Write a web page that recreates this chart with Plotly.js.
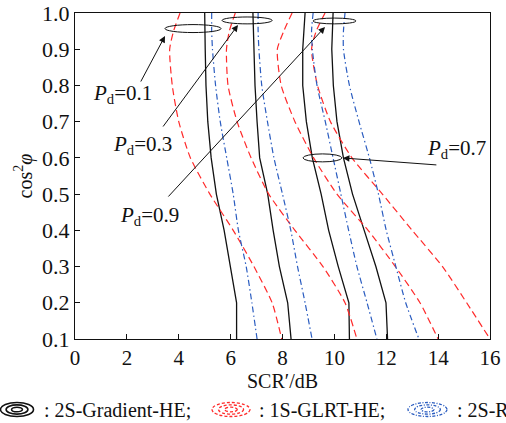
<!DOCTYPE html>
<html>
<head>
<meta charset="utf-8">
<script src="https://cdn.plot.ly/plotly-3.0.1.min.js"></script>
<style>html,body{margin:0;padding:0;background:#fff;}#chart{width:506px;height:423px;}</style>
</head>
<body>
<div id="chart"></div>
<script>
// cos^2(phi) sample levels (y axis)
const cos2phi = [1.0, 0.95, 0.9, 0.8, 0.7, 0.6, 0.5, 0.4, 0.3, 0.2, 0.1];

// SCR'/dB values, 2S-Gradient-HE (black solid)
const gradPd01 = [5.0, 5.0, 5.02, 5.05, 5.12, 5.25, 5.45, 5.75, 6.0, 6.23, 6.23];
const gradPd03 = [6.86, 6.88, 6.9, 6.94, 7.02, 7.12, 7.43, 7.64, 7.88, 8.2, 8.33];
const gradPd07 = [8.87, 8.82, 8.78, 8.78, 8.92, 9.15, 9.49, 9.78, 10.15, 10.56, 10.58];
const gradPd09 = [9.95, 9.92, 9.9, 9.96, 10.1, 10.35, 10.7, 11.15, 11.6, 11.99, 12.05];

// 1S-GLRT-HE (red dashed)
const glrtPd01 = [4.05, 3.8, 3.65, 3.75, 4.0, 4.45, 5.2, 6.1, 6.9, 7.6, 7.97];
const glrtPd03 = [6.18, 5.95, 5.84, 5.9, 6.25, 6.79, 7.47, 8.48, 9.56, 10.41, 10.87];
const glrtPd07 = [8.37, 8.05, 7.8, 7.95, 8.48, 9.2, 10.1, 11.3, 12.35, 13.3, 14.0];
const glrtPd09 = [9.64, 9.3, 9.12, 9.35, 9.85, 10.68, 11.85, 13.0, 14.17, 15.1, 16.0];

// 2S-Rao-HE (blue dash-dot)
const raoPd01 = [5.27, 5.27, 5.3, 5.42, 5.6, 5.85, 6.1, 6.3, 6.6, 6.82, 7.02];
const raoPd03 = [7.06, 7.06, 7.09, 7.2, 7.42, 7.67, 8.0, 8.32, 8.58, 8.87, 9.14];
const raoPd07 = [9.18, 9.12, 9.15, 9.33, 9.65, 9.95, 10.25, 10.55, 10.87, 11.26, 11.64];
const raoPd09 = [10.41, 10.35, 10.35, 10.58, 10.95, 11.35, 11.7, 12.0, 12.37, 12.75, 13.26];

const xTicks = [0, 2, 4, 6, 8, 10, 12, 14, 16];
const yTicks = [0.1, 0.2, 0.3, 0.4, 0.5, 0.6, 0.7, 0.8, 0.9, 1.0];
const yTickText = ['0.1', '0.2', '0.3', '0.4', '0.5', '0.6', '0.7', '0.8', '0.9', '1.0'];
const legendNames = ['2S-Gradient-HE;', '1S-GLRT-HE;', '2S-Rao-HE'];
const pdLabels = ['0.1', '0.3', '0.7', '0.9'];

const BLACK = '#111111', RED = '#ff2a2a', BLUE = '#2a5cc0';
const styles = [
  {color: BLACK, width: 1.3, dash: 'solid', shape: 'linear'},
  {color: RED, width: 1.2, dash: '7px,4px', shape: 'spline', smoothing: 0.6},
  {color: BLUE, width: 1.2, dash: '6px,3px,1.5px,3px', shape: 'spline', smoothing: 0.6}
];
const groups = [
  [gradPd01, gradPd03, gradPd07, gradPd09],
  [glrtPd01, glrtPd03, glrtPd07, glrtPd09],
  [raoPd01, raoPd03, raoPd07, raoPd09]
];

const traces = [];
groups.forEach((g, gi) => {
  g.forEach((xs, k) => {
    traces.push({
      x: xs, y: cos2phi, type: 'scatter', mode: 'lines',
      name: legendNames[gi] + ' Pd=' + pdLabels[k],
      line: styles[gi], showlegend: false, hoverinfo: 'skip'
    });
  });
});

const FONT = 'Liberation Serif, Times New Roman, serif';

// pixel helpers for paper coords (plot area l=75, r=490, t=13, b=339)
const px = p => (p - 75) / 415;
const py = p => (339 - p) / 326;

function ringSet(cx, cy, rx, ry, color, dash, width) {
  const out = [];
  [1, 0.66, 0.33].forEach(f => {
    out.push({type: 'circle', xref: 'paper', yref: 'paper',
      x0: px(cx - rx * f), x1: px(cx + rx * f),
      y0: py(cy + ry * f), y1: py(cy - ry * f),
      line: {color: color, width: width, dash: dash}});
  });
  return out;
}

const shapes = [
  // ellipses marking Pd groups (data coords)
  {type: 'circle', xref: 'x', yref: 'y', x0: 3.47, x1: 5.63, y0: 0.946, y1: 0.968, line: {color: BLACK, width: 1}},
  {type: 'circle', xref: 'x', yref: 'y', x0: 5.67, x1: 7.6, y0: 0.97, y1: 0.989, line: {color: BLACK, width: 1}},
  {type: 'circle', xref: 'x', yref: 'y', x0: 9.18, x1: 10.83, y0: 0.97, y1: 0.986, line: {color: BLACK, width: 1}},
  {type: 'circle', xref: 'x', yref: 'y', x0: 8.79, x1: 10.29, y0: 0.589, y1: 0.611, line: {color: BLACK, width: 1}}
].concat(
  ringSet(17, 409.5, 16.5, 7, BLACK, 'solid', 1.6),
  ringSet(231, 409.5, 19, 7, RED, '3px,2px', 1.3),
  ringSet(427.5, 409.5, 19.5, 7, BLUE, '3px,1.5px,1px,1.5px', 1.3)
);

function pdText(v) { return '<i>P</i><sub>d</sub>=' + v; }

const annotations = [
  // arrows (tail and tip given in data coords)
  {x: 3.47, y: 0.9365, ax: 2.506, ay: 0.8067},
  {x: 6.284, y: 0.9669, ax: 3.354, ay: 0.6825},
  {x: 9.638, y: 0.9613, ax: 3.547, ay: 0.4892},
  {x: 10.33, y: 0.5997, ax: 13.99, ay: 0.5803}
].map(a => Object.assign({xref: 'x', yref: 'y', axref: 'x', ayref: 'y', text: '',
  showarrow: true, arrowhead: 2, arrowsize: 1.3, arrowwidth: 1, arrowcolor: BLACK}, a));

[[1.85, 0.7764, pdLabels[0]], [2.602, 0.6356, pdLabels[1]], [14.69, 0.6259, pdLabels[2]], [2.891, 0.4409, pdLabels[3]]]
  .forEach(([x, y, v]) => annotations.push({xref: 'x', yref: 'y', x: x, y: y, text: pdText(v),
    showarrow: false, xanchor: 'center', yanchor: 'middle', font: {family: FONT, size: 21, color: BLACK}}));

// legend texts
[[42, legendNames[0]], [257, legendNames[1]], [455, legendNames[2]]].forEach(([x, t]) =>
  annotations.push({xref: 'paper', yref: 'paper', x: px(x), y: py(410), xanchor: 'left', yanchor: 'middle',
    text: ': ' + t, showarrow: false, font: {family: FONT, size: 20, color: BLACK}}));

const layout = {
  width: 506, height: 423,
  margin: {l: 75, r: 16, t: 13, b: 84},
  paper_bgcolor: '#fff', plot_bgcolor: '#fff',
  font: {family: FONT, size: 20, color: BLACK},
  showlegend: false,
  xaxis: {
    range: [0, 16], tickvals: xTicks, ticks: 'inside', ticklen: 5, tickcolor: BLACK,
    tickfont: {family: FONT, size: 21},
    showline: true, linecolor: BLACK, linewidth: 1, mirror: true,
    showgrid: false, zeroline: false, fixedrange: true,
    title: {text: 'SCR′/dB', font: {family: FONT, size: 20}, standoff: 2}
  },
  yaxis: {
    range: [0.1, 1.0], tickvals: yTicks, ticktext: yTickText, ticks: 'inside', ticklen: 5, tickcolor: BLACK,
    tickfont: {family: FONT, size: 22},
    showline: true, linecolor: BLACK, linewidth: 1, mirror: true,
    showgrid: false, zeroline: false, fixedrange: true,
    title: {text: 'cos<sup>2</sup><i>φ</i>', font: {family: FONT, size: 20}, standoff: 4}
  },
  shapes: shapes,
  annotations: annotations
};

Plotly.newPlot('chart', traces, layout, {staticPlot: true, displayModeBar: false});
</script>
</body>
</html>
